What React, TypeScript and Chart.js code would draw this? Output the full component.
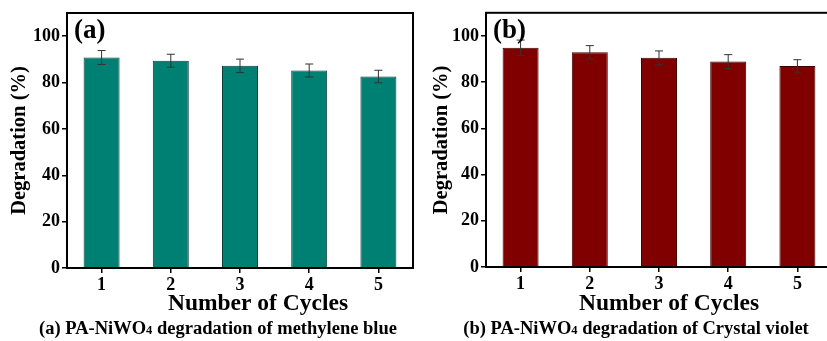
import React, { useEffect, useRef } from 'react';
import { Chart, registerables } from 'chart.js';

Chart.register(...registerables);

const FONT = '"Liberation Serif", "Times New Roman", serif';

const categories = ['1', '2', '3', '4', '5'];
const mbValues = [90.8, 89.4, 87.2, 85.2, 82.6];
const mbErrors = [3.0, 2.8, 2.9, 2.8, 2.7];
const cvValues = [94.9, 92.9, 90.5, 88.9, 87.0];
const cvErrors = [3.3, 2.9, 3.0, 3.0, 2.7];
const yTicks = [0, 20, 40, 60, 80, 100];
const yMax = 110;

const W = 418;
const H = 341;

type PanelProps = {
  values: number[];
  errors: number[];
  color: string;
  edge: string;
  letter: string;
  captionPre: string;
  captionSub: string;
  captionPost: string;
  area: { left: number; right: number; top: number; bottom: number };
  yTitleX: number;
  xTitleX: number;
  captionX: number;
  offsetX: number;
};

function Panel(p: PanelProps) {
  const ref = useRef<HTMLCanvasElement | null>(null);
  useEffect(() => {
    if (!ref.current) return;
    const xBottom = 314;
    const extras = {
      id: 'extras',
      afterDatasetsDraw(chart: any) {
        const ctx = chart.ctx;
        const xs = chart.scales.x;
        const ys = chart.scales.y;
        ctx.save();
        ctx.strokeStyle = '#333';
        ctx.lineWidth = 1;
        p.values.forEach((v, i) => {
          const x = xs.getPixelForValue(i);
          const yt = ys.getPixelForValue(v + p.errors[i]);
          const yb = ys.getPixelForValue(v - p.errors[i]);
          ctx.beginPath();
          ctx.moveTo(x, yt);
          ctx.lineTo(x, yb);
          ctx.moveTo(x - 4, yt);
          ctx.lineTo(x + 4, yt);
          ctx.moveTo(x - 4, yb);
          ctx.lineTo(x + 4, yb);
          ctx.stroke();
        });
        ctx.restore();
      },
      afterDraw(chart: any) {
        const ctx = chart.ctx;
        const a = chart.chartArea;
        ctx.save();
        ctx.strokeStyle = '#000';
        ctx.lineWidth = 2;
        ctx.strokeRect(a.left, a.top, a.right - a.left, a.bottom - a.top);
        ctx.fillStyle = '#000';
        ctx.textBaseline = 'alphabetic';
        ctx.textAlign = 'left';
        ctx.font = `bold 27px ${FONT}`;
        ctx.fillText(p.letter, a.left + 7, a.top + 25);
        ctx.textAlign = 'center';
        ctx.textBaseline = 'middle';
        ctx.font = `bold 23.5px ${FONT}`;
        ctx.fillText('Number of Cycles', p.xTitleX, 304);
        // caption with subscript
        ctx.textBaseline = 'alphabetic';
        ctx.textAlign = 'left';
        const big = `bold 18.5px ${FONT}`;
        const small = `bold 12.5px ${FONT}`;
        ctx.font = big;
        const w1 = ctx.measureText(p.captionPre).width;
        const w3 = ctx.measureText(p.captionPost).width;
        ctx.font = small;
        const w2 = ctx.measureText(p.captionSub).width;
        let x = p.captionX - (w1 + w2 + w3) / 2;
        const base = 334;
        ctx.font = big;
        ctx.fillText(p.captionPre, x, base);
        x += w1;
        ctx.font = small;
        ctx.fillText(p.captionSub, x, base);
        x += w2;
        ctx.font = big;
        ctx.fillText(p.captionPost, x, base);
        ctx.restore();
      },
    };
    const chart = new Chart(ref.current, {
      type: 'bar',
      data: {
        labels: categories,
        datasets: [
          {
            data: p.values,
            backgroundColor: p.color,
            borderColor: p.edge,
            borderWidth: 1,
            barPercentage: 0.52,
            categoryPercentage: 1,
          },
        ],
      },
      options: {
        responsive: false,
        animation: false,
        layout: {
          padding: {
            left: 0,
            top: p.area.top,
            right: W - p.area.right,
            bottom: H - xBottom,
          },
        },
        plugins: {
          legend: { display: false },
          tooltip: { enabled: false },
          title: { display: false },
        },
        scales: {
          x: {
            type: 'category',
            offset: true,
            grid: {
              offset: false,
              drawOnChartArea: false,
              drawTicks: true,
              tickLength: 5,
              color: '#000',
              lineWidth: 1.5,
            },
            border: { display: true, color: '#000', width: 2 },
            ticks: {
              color: '#000',
              padding: 2,
              font: { family: FONT, size: 18, weight: 'bold' },
            },
            afterFit(scale: any) {
              scale.height = xBottom - p.area.bottom;
            },
          },
          y: {
            min: 0,
            max: yMax,
            grid: {
              drawOnChartArea: false,
              drawTicks: true,
              tickLength: 5,
              color: '#000',
              lineWidth: 1.5,
            },
            border: { display: true, color: '#000', width: 2 },
            ticks: {
              color: '#000',
              padding: 2,
              font: { family: FONT, size: 18, weight: 'bold' },
            },
            afterBuildTicks(scale: any) {
              scale.ticks = yTicks.map((v) => ({ value: v }));
            },
            title: {
              display: true,
              text: 'Degradation (%)',
              color: '#000',
              font: { family: FONT, size: 20.5, weight: 'bold', lineHeight: 1 },
              padding: { top: p.yTitleX - 10.25, bottom: 0 },
            },
            afterFit(scale: any) {
              scale.width = p.area.left;
            },
          },
        },
      },
      plugins: [extras],
    });
    return () => chart.destroy();
  }, []);
  return (
    <canvas
      ref={ref}
      width={W}
      height={H}
      style={{ position: 'absolute', left: p.offsetX, top: 0, width: W, height: H }}
    />
  );
}

export default function App() {
  return (
    <div
      style={{
        position: 'absolute',
        left: 0,
        top: 0,
        width: 827,
        height: 341,
        overflow: 'hidden',
        background: '#fff',
      }}
    >
      <Panel
        values={mbValues}
        errors={mbErrors}
        color="#007f73"
        edge="#0b3b36"
        letter="(a)"
        captionPre="(a) PA-NiWO"
        captionSub="4"
        captionPost=" degradation of methylene blue"
        area={{ left: 67, right: 413, top: 13, bottom: 268 }}
        yTitleX={20}
        xTitleX={258}
        captionX={218}
        offsetX={0}
      />
      <Panel
        values={cvValues}
        errors={cvErrors}
        color="#800000"
        edge="#3a0000"
        letter="(b)"
        captionPre="(b) PA-NiWO"
        captionSub="4"
        captionPost=" degradation of Crystal violet"
        area={{ left: 68, right: 414, top: 12, bottom: 267 }}
        yTitleX={24}
        xTitleX={251}
        captionX={218}
        offsetX={418}
      />
    </div>
  );
}
